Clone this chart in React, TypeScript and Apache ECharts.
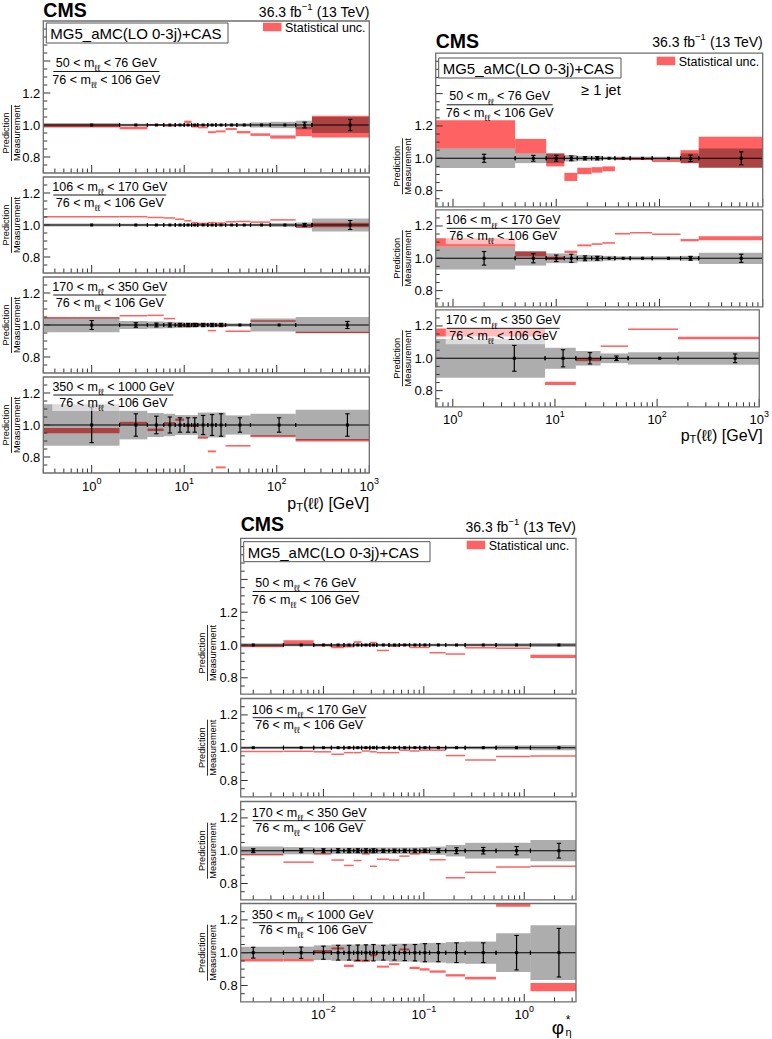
import React, { useEffect, useRef } from 'react';
import * as echarts from 'echarts';

// ---------------- data ----------------
// bin edges
const PT_EDGES_16 = [0, 2, 4, 6, 8, 10, 12, 14, 18, 22, 28, 37, 52, 85, 160, 240, 1000];
const PT_EDGES_13 = [0, 2, 4, 6, 8, 10, 12, 14, 18, 22, 28, 52, 160, 1000];
const PTJ_EDGES_12 = [0, 4, 8, 12, 16, 22, 28, 37, 52, 85, 160, 240, 1000];
const PTJ_EDGES_6 = [0, 8, 16, 28, 52, 160, 1000];
const PHI_EDGES = [0, 0.004, 0.008, 0.012, 0.016, 0.02, 0.024, 0.029, 0.034, 0.045, 0.057, 0.072, 0.091, 0.114, 0.165, 0.258, 0.524, 1.153, 3.277];

const Y_TICK_LABELS = [0.8, 1.0, 1.2];

// pT, inclusive, 50-76
const ptA_pred = [0.995, 0.981, 1.002, 0.995, 0.998, 1.02, 0.99, 0.985, 0.955, 0.96, 0.975, 0.955, 0.94, 0.925, 0.96, 0.99];
const ptA_predUnc = [0.01, 0.008, 0.004, 0.005, 0.004, 0.007, 0.006, 0.006, 0.006, 0.006, 0.006, 0.007, 0.008, 0.01, 0.03, 0.068];
const ptA_band = [0.012, 0.008, 0.006, 0.005, 0.005, 0.005, 0.005, 0.006, 0.006, 0.007, 0.008, 0.01, 0.016, 0.02, 0.027, 0.05];
const ptA_err = [0.003, 0.003, 0.003, 0.003, 0.003, 0.003, 0.003, 0.003, 0.003, 0.003, 0.003, 0.004, 0.005, 0.006, 0.018, 0.035];
// pT, inclusive, 106-170
const ptB_pred = [1.052, 1.052, 1.047, 1.044, 1.036, 1.026, 1.015, 1.01, 1.015, 1.012, 1.02, 1.022, 1.018, 1.032, 0.99, 1.0];
const ptB_predUnc = [0.002, 0.002, 0.002, 0.002, 0.002, 0.002, 0.002, 0.002, 0.002, 0.002, 0.002, 0.002, 0.002, 0.002, 0.008, 0.014];
const ptB_band = [0.01, 0.008, 0.006, 0.005, 0.005, 0.005, 0.005, 0.005, 0.005, 0.006, 0.006, 0.007, 0.008, 0.012, 0.016, 0.04];
const ptB_err = [0.004, 0.003, 0.003, 0.003, 0.003, 0.003, 0.003, 0.003, 0.003, 0.003, 0.003, 0.003, 0.004, 0.005, 0.01, 0.028];
// pT, inclusive, 170-350
const ptC_pred = [1.046, 1.058, 1.06, 1.04, 0.997, 0.99, 1.008, 1.005, 0.965, 0.995, 0.961, 1.025, 0.953];
const ptC_predUnc = [0.002, 0.002, 0.002, 0.002, 0.003, 0.003, 0.003, 0.003, 0.003, 0.003, 0.002, 0.002, 0.004];
const ptC_band = [0.045, 0.025, 0.022, 0.02, 0.018, 0.015, 0.015, 0.014, 0.014, 0.014, 0.01, 0.04, 0.05];
const ptC_err = [0.028, 0.014, 0.012, 0.012, 0.01, 0.01, 0.01, 0.01, 0.01, 0.01, 0.006, 0.008, 0.022];
// pT, inclusive, 350-1000
const ptD_pred = [0.965, 1.012, 0.97, 1.012, 1.033, 0.995, 0.993, 0.92, 0.835, 0.735, 0.87, 0.93, 0.905];
const ptD_predUnc = [0.017, 0.008, 0.008, 0.006, 0.007, 0.006, 0.005, 0.006, 0.006, 0.006, 0.005, 0.006, 0.008];
const ptD_band = [0.13, 0.09, 0.075, 0.07, 0.062, 0.062, 0.062, 0.078, 0.078, 0.078, 0.06, 0.07, 0.095];
const ptD_err = [0.11, 0.07, 0.055, 0.05, 0.045, 0.045, 0.045, 0.06, 0.065, 0.07, 0.045, 0.045, 0.07];

// pT, >=1 jet, 50-76
const jA_pred = [1.148, 1.075, 0.99, 0.885, 0.922, 0.928, 0.935, 0.995, 0.995, 0.985, 1.01, 1.038];
const jA_predUnc = [0.088, 0.045, 0.04, 0.025, 0.02, 0.017, 0.015, 0.006, 0.006, 0.008, 0.04, 0.095];
const jA_band = [0.06, 0.03, 0.03, 0.02, 0.015, 0.015, 0.01, 0.01, 0.01, 0.01, 0.03, 0.06];
const jA_err = [0.025, 0.018, 0.018, 0.015, 0.01, 0.01, 0.006, 0.005, 0.005, 0.005, 0.02, 0.04];
// pT, >=1 jet, 106-170
const jB_pred = [1.098, 1.026, 1.0, 1.04, 1.08, 1.088, 1.095, 1.152, 1.158, 1.148, 1.112, 1.124];
const jB_predUnc = [0.026, 0.015, 0.01, 0.007, 0.006, 0.005, 0.005, 0.005, 0.004, 0.004, 0.007, 0.012];
const jB_band = [0.07, 0.045, 0.03, 0.03, 0.02, 0.02, 0.015, 0.012, 0.012, 0.012, 0.015, 0.035];
const jB_err = [0.042, 0.028, 0.02, 0.025, 0.015, 0.012, 0.006, 0.006, 0.005, 0.005, 0.012, 0.025];
// pT, >=1 jet, 170-350
const jC_pred = [1.16, 0.845, 0.99, 1.075, 1.18, 1.126];
const jC_predUnc = [0.025, 0.01, 0.008, 0.003, 0.003, 0.008];
const jC_band = [0.12, 0.065, 0.045, 0.03, 0.038, 0.04];
const jC_err = [0.08, 0.053, 0.035, 0.014, 0.008, 0.027];

// phi*, 50-76
const phA_pred = [0.993, 1.017, 0.998, 0.987, 0.99, 1.018, 1.0, 1.015, 0.967, 0.993, 1.0, 0.985, 0.985, 0.953, 0.945, 0.983, 0.98, 0.93];
const phA_predUnc = [0.006, 0.012, 0.006, 0.007, 0.005, 0.005, 0.005, 0.004, 0.004, 0.004, 0.003, 0.003, 0.003, 0.003, 0.003, 0.003, 0.004, 0.01];
const phA_band = [0.01, 0.008, 0.008, 0.008, 0.008, 0.008, 0.008, 0.008, 0.008, 0.008, 0.008, 0.008, 0.008, 0.008, 0.008, 0.009, 0.01, 0.012];
const phA_err = [0.003, 0.003, 0.003, 0.003, 0.003, 0.003, 0.003, 0.003, 0.003, 0.003, 0.003, 0.003, 0.003, 0.003, 0.003, 0.003, 0.004, 0.005];
// phi*, 106-170
const phB_pred = [0.977, 0.978, 0.975, 0.96, 0.97, 0.97, 0.98, 0.975, 0.97, 0.97, 0.985, 0.98, 0.985, 0.985, 0.952, 0.925, 0.947, 0.95];
const phB_predUnc = [0.002, 0.002, 0.002, 0.002, 0.002, 0.002, 0.002, 0.002, 0.002, 0.002, 0.002, 0.002, 0.002, 0.002, 0.002, 0.002, 0.002, 0.003];
const phB_band = [0.008, 0.008, 0.008, 0.008, 0.008, 0.008, 0.008, 0.008, 0.008, 0.008, 0.008, 0.008, 0.008, 0.008, 0.008, 0.01, 0.013, 0.015];
const phB_err = [0.003, 0.003, 0.003, 0.003, 0.003, 0.003, 0.003, 0.003, 0.003, 0.003, 0.003, 0.003, 0.003, 0.003, 0.003, 0.004, 0.005, 0.006];
// phi*, 170-350
const phC_pred = [0.975, 0.93, 0.98, 0.943, 0.91, 0.94, 0.98, 0.905, 0.948, 0.943, 0.967, 0.98, 0.99, 0.945, 0.835, 0.868, 0.9, 0.905];
const phC_predUnc = [0.002, 0.002, 0.003, 0.002, 0.002, 0.002, 0.002, 0.002, 0.002, 0.002, 0.002, 0.002, 0.002, 0.002, 0.002, 0.002, 0.002, 0.005];
const phC_band = [0.025, 0.022, 0.02, 0.02, 0.02, 0.02, 0.02, 0.02, 0.02, 0.02, 0.02, 0.02, 0.022, 0.025, 0.035, 0.048, 0.048, 0.065];
const phC_err = [0.012, 0.012, 0.012, 0.012, 0.012, 0.012, 0.012, 0.012, 0.01, 0.01, 0.01, 0.01, 0.01, 0.012, 0.018, 0.02, 0.025, 0.045];
// phi*, 350-1000
const phD_pred = [0.955, 0.955, 1.01, 1.026, 0.92, 0.95, 0.95, 0.985, 0.915, 0.93, 1.02, 0.907, 0.898, 0.885, 0.862, 0.845, 1.29, 0.79];
const phD_predUnc = [0.008, 0.008, 0.006, 0.006, 0.007, 0.007, 0.007, 0.007, 0.006, 0.006, 0.006, 0.007, 0.007, 0.007, 0.007, 0.008, 0.01, 0.025];
const phD_band = [0.037, 0.037, 0.045, 0.05, 0.05, 0.05, 0.05, 0.05, 0.05, 0.055, 0.055, 0.055, 0.06, 0.06, 0.065, 0.068, 0.118, 0.167];
const phD_err = [0.033, 0.035, 0.04, 0.045, 0.045, 0.047, 0.048, 0.05, 0.045, 0.045, 0.048, 0.05, 0.055, 0.055, 0.06, 0.06, 0.105, 0.148];

const MASS_NUM = ['50 < m', '106 < m', '170 < m', '350 < m'];
const MASS_NUM_TAIL = [' < 76 GeV', ' < 170 GeV', ' < 350 GeV', ' < 1000 GeV'];
const MASS_DEN = ['76 < m', ' < 106 GeV'];

// ---------------- style / layout ----------------
const FONT = '"Liberation Sans", Arial, Helvetica, "DejaVu Sans", sans-serif';
const RED = '#fe6262';
const BAND = 'rgba(0,0,0,0.32)';
const FRAME = '#6e6e6e';

type Group = { left: number; width: number; scale: number; xMin: number; xMax: number; labelDx: number; yTitleX: number };
const GTL: Group = { left: 43.3, width: 326, scale: 160, xMin: 0.3, xMax: 1000, labelDx: 10, yTitleX: 11.5 };
const GTR: Group = { left: 435.7, width: 327, scale: 161.7, xMin: 0.68, xMax: 1000, labelDx: 11, yTitleX: 402.5 };
const GB: Group = { left: 240.7, width: 335.3, scale: 164, xMin: 0.0015, xMax: 3.277, labelDx: 12, yTitleX: 207.5 };

type Panel = {
  g: Group; c: number; yMax: number; first: boolean; last: boolean;
  edges: number[]; pred: number[]; predUnc: number[]; band: number[]; err: number[];
  massIdx: number; lineW: number;
};

const LINE_W = [106, 113, 113, 120];

const PANELS: Panel[] = [
  { g: GTL, c: 125, yMax: 1.65, first: true, last: false, edges: PT_EDGES_16, pred: ptA_pred, predUnc: ptA_predUnc, band: ptA_band, err: ptA_err, massIdx: 0, lineW: LINE_W[0] },
  { g: GTL, c: 225, yMax: 1.3, first: false, last: false, edges: PT_EDGES_16, pred: ptB_pred, predUnc: ptB_predUnc, band: ptB_band, err: ptB_err, massIdx: 1, lineW: LINE_W[1] },
  { g: GTL, c: 325, yMax: 1.3, first: false, last: false, edges: PT_EDGES_13, pred: ptC_pred, predUnc: ptC_predUnc, band: ptC_band, err: ptC_err, massIdx: 2, lineW: LINE_W[2] },
  { g: GTL, c: 425, yMax: 1.3, first: false, last: true, edges: PT_EDGES_13, pred: ptD_pred, predUnc: ptD_predUnc, band: ptD_band, err: ptD_err, massIdx: 3, lineW: LINE_W[3] },
  { g: GTR, c: 158.3, yMax: 1.65, first: true, last: false, edges: PTJ_EDGES_12, pred: jA_pred, predUnc: jA_predUnc, band: jA_band, err: jA_err, massIdx: 0, lineW: LINE_W[0] },
  { g: GTR, c: 258.3, yMax: 1.3, first: false, last: false, edges: PTJ_EDGES_12, pred: jB_pred, predUnc: jB_predUnc, band: jB_band, err: jB_err, massIdx: 1, lineW: LINE_W[1] },
  { g: GTR, c: 358.3, yMax: 1.3, first: false, last: true, edges: PTJ_EDGES_6, pred: jC_pred, predUnc: jC_predUnc, band: jC_band, err: jC_err, massIdx: 2, lineW: LINE_W[2] },
  { g: GB, c: 645, yMax: 1.65, first: true, last: false, edges: PHI_EDGES, pred: phA_pred, predUnc: phA_predUnc, band: phA_band, err: phA_err, massIdx: 0, lineW: LINE_W[0] },
  { g: GB, c: 747.7, yMax: 1.3, first: false, last: false, edges: PHI_EDGES, pred: phB_pred, predUnc: phB_predUnc, band: phB_band, err: phB_err, massIdx: 1, lineW: LINE_W[1] },
  { g: GB, c: 850.7, yMax: 1.3, first: false, last: false, edges: PHI_EDGES, pred: phC_pred, predUnc: phC_predUnc, band: phC_band, err: phC_err, massIdx: 2, lineW: LINE_W[2] },
  { g: GB, c: 952.7, yMax: 1.3, first: false, last: true, edges: PHI_EDGES, pred: phD_pred, predUnc: phD_predUnc, band: phD_band, err: phD_err, massIdx: 3, lineW: LINE_W[3] },
];

// ---------------- render helpers ----------------
function rectRender(minH: number, fill: string) {
  return (params: any, api: any) => {
    const a = api.coord([api.value(0), api.value(3)]);
    const b = api.coord([api.value(1), api.value(2)]);
    let top = a[1];
    let h = b[1] - a[1];
    if (h < minH) { top -= (minH - h) / 2; h = minH; }
    const shape = echarts.graphic.clipRectByRect({ x: a[0], y: top, width: b[0] - a[0], height: h }, params.coordSys);
    if (!shape) return null;
    return { type: 'rect', shape, style: { fill } };
  };
}

function pointsRender(p: Panel) {
  return (params: any, api: any) => {
    const cs = params.coordSys;
    const x0 = api.value(0), x1 = api.value(1), xc = api.value(2), e = api.value(3);
    const pa = api.coord([x0, 1]);
    const pb = api.coord([x1, 1]);
    const pc = api.coord([xc, 1]);
    const yTop = Math.max(cs.y, api.coord([xc, 1 + e])[1]);
    const yBot = Math.min(cs.y + cs.height, api.coord([xc, 1 - e])[1]);
    const st = { stroke: '#000', lineWidth: 1.1 };
    const ch: any[] = [
      { type: 'line', shape: { x1: pa[0], y1: pa[1], x2: pb[0], y2: pb[1] }, style: st },
    ];
    if (x1 < p.g.xMax * 0.999) ch.push({ type: 'line', shape: { x1: pb[0], y1: pb[1] - 2, x2: pb[0], y2: pb[1] + 2 }, style: st });
    if (x0 > p.g.xMin * 1.001) ch.push({ type: 'line', shape: { x1: pa[0], y1: pa[1] - 2, x2: pa[0], y2: pa[1] + 2 }, style: st });
    if (yBot - yTop > 3) {
      ch.push({ type: 'line', shape: { x1: pc[0], y1: yTop, x2: pc[0], y2: yBot }, style: { stroke: '#000', lineWidth: 1.2 } });
      ch.push({ type: 'line', shape: { x1: pc[0] - 2.2, y1: yTop, x2: pc[0] + 2.2, y2: yTop }, style: { stroke: '#000', lineWidth: 1.1 } });
      ch.push({ type: 'line', shape: { x1: pc[0] - 2.2, y1: yBot, x2: pc[0] + 2.2, y2: yBot }, style: { stroke: '#000', lineWidth: 1.1 } });
    }
    ch.push({ type: 'rect', shape: { x: pc[0] - 1.5, y: pc[1] - 1.5, width: 3, height: 3 }, style: { fill: '#000' } });
    return { type: 'group', children: ch };
  };
}

function frameRender(p: Panel) {
  return (params: any, api: any) => {
    const cs = params.coordSys;
    const ch: any[] = [];
    const tst = { stroke: '#333', lineWidth: 1 };
    for (let k = 15; k * 0.05 < p.yMax - 1e-9; k++) {
      const y = api.coord([p.g.xMin, k * 0.05])[1];
      const len = k % 4 === 0 ? 7 : 4;
      ch.push({ type: 'line', shape: { x1: cs.x, y1: y, x2: cs.x + len, y2: y }, style: tst });
    }
    const d0 = Math.floor(Math.log10(p.g.xMin));
    const d1 = Math.ceil(Math.log10(p.g.xMax));
    const yb = cs.y + cs.height;
    for (let d = d0; d <= d1; d++) {
      for (let m = 1; m <= 9; m++) {
        const v = m * Math.pow(10, d);
        if (v < p.g.xMin * 0.9999 || v > p.g.xMax * 1.0001) continue;
        const x = api.coord([v, 0.7])[0];
        const len = m === 1 ? 8 : 4.5;
        ch.push({ type: 'line', shape: { x1: x, y1: yb, x2: x, y2: yb - len }, style: tst });
      }
    }
    ch.push({ type: 'rect', shape: { x: cs.x, y: cs.y, width: cs.width, height: cs.height }, style: { fill: 'none', stroke: FRAME, lineWidth: 1.3 } });
    return { type: 'group', children: ch };
  };
}

function txt(x: number, y: number, text: string, fontSize: number, align = 'left', extra: any = {}) {
  return {
    type: 'text', x, y, z: 100,
    style: {
      text, fontSize, fontFamily: FONT, fill: '#000',
      align, verticalAlign: 'middle', textAlign: align, textVerticalAlign: 'middle',
      ...extra,
    },
  };
}

function richTxt(x: number, y: number, text: string, base: number, small: number, align: string, mode: 'sub' | 'sup', extraLH = 7) {
  return {
    type: 'text', x, y, z: 100,
    style: {
      text, fill: '#000', fontFamily: FONT, fontSize: base,
      align, verticalAlign: 'middle', textAlign: align, textVerticalAlign: 'middle',
      rich: {
        t: { fontSize: base, fontFamily: FONT, fill: '#000', lineHeight: base + extraLH },
        s: { fontSize: small, fontFamily: FONT, fill: '#000', verticalAlign: mode === 'sub' ? 'bottom' : 'top' },
      },
    },
  };
}

function buildOption() {
  const grid: any[] = [];
  const xAxis: any[] = [];
  const yAxis: any[] = [];
  const series: any[] = [];
  const graphic: any[] = [];

  PANELS.forEach((p, i) => {
    const top = p.c - (p.yMax - 1) * p.g.scale;
    const height = (p.yMax - 0.7) * p.g.scale;
    grid.push({ left: p.g.left, top, width: p.g.width, height, show: false });
    xAxis.push({
      type: 'log', logBase: 10, gridIndex: i, min: p.g.xMin, max: p.g.xMax,
      axisLine: { show: false }, axisTick: { show: false }, splitLine: { show: false },
      axisLabel: p.last ? {
        show: true, margin: 3, interval: 0, showMinLabel: true, showMaxLabel: true,
        formatter: (v: number) => {
          const l = Math.log10(v);
          const e = Math.round(l);
          if (Math.abs(l - e) > 1e-6) return '';
          return `{b|10}{s|${e < 0 ? '−' + Math.abs(e) : e}}`;
        },
        rich: {
          b: { fontSize: 13, fontFamily: FONT, color: '#000', lineHeight: 20 },
          s: { fontSize: 9, fontFamily: FONT, color: '#000', verticalAlign: 'top' },
        },
      } : { show: false },
    });
    yAxis.push({
      type: 'value', gridIndex: i, min: 0.7, max: p.yMax, interval: 0.1,
      axisLine: { show: false }, axisTick: { show: false }, splitLine: { show: false },
      axisLabel: {
        margin: 3, fontSize: 13, fontFamily: FONT, color: '#000',
        formatter: (v: number) => (Y_TICK_LABELS.some((t) => Math.abs(t - v) < 1e-6) ? v.toFixed(1) : ''),
      },
    });

    const n = p.edges.length - 1;
    const redData: number[][] = [];
    const bandData: number[][] = [];
    const ptData: number[][] = [];
    for (let j = 0; j < n; j++) {
      const x0 = Math.max(p.edges[j], p.g.xMin);
      const x1 = p.edges[j + 1];
      redData.push([x0, x1, p.pred[j] - p.predUnc[j], p.pred[j] + p.predUnc[j]]);
      bandData.push([x0, x1, 1 - p.band[j], 1 + p.band[j]]);
      ptData.push([x0, x1, (p.edges[j] + p.edges[j + 1]) / 2, p.err[j]]);
    }
    series.push({ type: 'custom', name: 'Statistical unc.', xAxisIndex: i, yAxisIndex: i, z: 2, renderItem: rectRender(1.5, RED), data: redData, silent: true });
    series.push({ type: 'custom', name: 'Measurement unc.', xAxisIndex: i, yAxisIndex: i, z: 3, renderItem: rectRender(0, BAND), data: bandData, silent: true });
    series.push({ type: 'custom', name: 'Measurement', xAxisIndex: i, yAxisIndex: i, z: 4, renderItem: pointsRender(p), data: ptData, silent: true });
    series.push({ type: 'custom', name: 'frame', xAxisIndex: i, yAxisIndex: i, z: 5, renderItem: frameRender(p), data: [[p.g.xMin, 0.7]], silent: true });

    // mass label (fraction) with translucent background
    const numDy = p.first ? -62 : -38;
    const lineDy = p.first ? -53.5 : -30;
    const denDy = p.first ? -45.5 : -22.5;
    const bgBelow = p.first ? 6.5 : 8.5;
    const lx = p.g.left + p.g.labelDx;
    graphic.push({ type: 'rect', z: 99, shape: { x: lx - 1, y: p.c + numDy - 8, width: p.lineW + 2, height: denDy - numDy + 8 + bgBelow }, style: { fill: 'rgba(255,255,255,0.58)' } });
    graphic.push(richTxt(lx + p.lineW / 2, p.c + numDy, `{t|${MASS_NUM[p.massIdx]}}{s|ℓℓ}{t|${MASS_NUM_TAIL[p.massIdx]}}`, 12.5, 9, 'center', 'sub'));
    graphic.push({ type: 'line', z: 100, shape: { x1: lx, y1: p.c + lineDy, x2: lx + p.lineW, y2: p.c + lineDy }, style: { stroke: '#000', lineWidth: 0.9 } });
    graphic.push(richTxt(lx + p.lineW / 2, p.c + denDy, `{t|${MASS_DEN[0]}}{s|ℓℓ}{t|${MASS_DEN[1]}}`, 12.5, 9, 'center', 'sub'));

    // y title: Prediction / Measurement
    const yc = p.first ? p.c + 8 : p.c;
    graphic.push({
      type: 'group', x: p.g.yTitleX, y: yc, rotation: Math.PI / 2, z: 100,
      children: [
        { type: 'text', x: 0, y: -0.6, z: 100, style: { text: 'Prediction', fontSize: 9.2, fontFamily: FONT, fill: '#000', align: 'center', verticalAlign: 'bottom', textAlign: 'center', textVerticalAlign: 'bottom' } },
        { type: 'line', z: 100, shape: { x1: -28, y1: 0, x2: 28, y2: 0 }, style: { stroke: '#000', lineWidth: 0.8 } },
        { type: 'text', x: 0, y: 0.6, z: 100, style: { text: 'Measurement', fontSize: 9.2, fontFamily: FONT, fill: '#000', align: 'center', verticalAlign: 'top', textAlign: 'center', textVerticalAlign: 'top' } },
      ],
    });
  });

  // headers per group
  const headers = [
    { g: GTL, cmsY: 10, lumiY: 12, boxY: 23, boxX1: 228, legY: 22.7, legX: 263, jet: false },
    { g: GTR, cmsY: 41, lumiY: 42, boxY: 58, boxX1: 621, legY: 56.7, legX: 656.7, jet: true },
    { g: GB, cmsY: 524, lumiY: 527, boxY: 541.7, boxX1: 430, legY: 540.7, legX: 466.7, jet: false },
  ];
  headers.forEach((h) => {
    const L = h.g.left;
    const R = h.g.left + h.g.width;
    graphic.push(txt(L, h.cmsY, 'CMS', 19.5, 'left', { fontWeight: 'bold' }));
    graphic.push(richTxt(R, h.lumiY, '{t|36.3 fb}{s|−1}{t| (13 TeV)}', 14, 9.5, 'right', 'sup'));
    graphic.push({ type: 'rect', z: 100, shape: { x: L + 3, y: h.boxY, width: h.boxX1 - L - 3, height: 20 }, style: { fill: '#fff', stroke: '#555', lineWidth: 1 } });
    graphic.push(txt(L + 7, h.boxY + 10.5, 'MG5_aMC(LO 0-3j)+CAS', 15));
    graphic.push({ type: 'rect', z: 100, shape: { x: h.legX, y: h.legY, width: 18.5, height: 8.5 }, style: { fill: RED } });
    graphic.push(txt(h.legX + 22, h.legY + 4.8, 'Statistical unc.', 12.5));
    if (h.jet) graphic.push(txt(601, 90, '≥ 1 jet', 14.5, 'center'));
  });

  // x axis titles
  graphic.push(richTxt(369.3, 503, '{t|p}{s|T}{t|(ℓℓ) [GeV]}', 16, 11, 'right', 'sub', 3));
  graphic.push(richTxt(762.7, 435, '{t|p}{s|T}{t|(ℓℓ) [GeV]}', 16, 11, 'right', 'sub', 3));
  graphic.push(txt(558, 1027.5, 'φ', 19, 'center'));
  graphic.push(txt(568, 1020, '*', 12, 'center'));
  graphic.push(txt(568.5, 1031.5, 'η', 11, 'center'));

  return { animation: false, backgroundColor: '#fff', grid, xAxis, yAxis, series, graphic };
}

export default function App() {
  const ref = useRef<HTMLDivElement>(null);
  useEffect(() => {
    document.body.style.margin = '0';
    const chart = echarts.init(ref.current as HTMLDivElement, undefined, { renderer: 'svg', width: 772, height: 1039 });
    chart.setOption(buildOption() as any);
    return () => chart.dispose();
  }, []);
  return <div ref={ref} style={{ position: 'absolute', left: 0, top: 0, width: 772, height: 1039, background: '#fff' }} />;
}
